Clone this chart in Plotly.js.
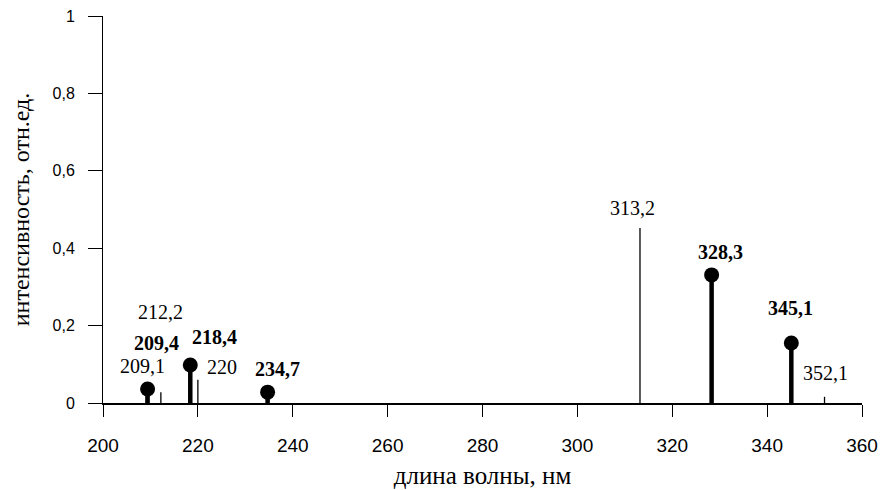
<!DOCTYPE html>
<html>
<head>
<meta charset="utf-8">
<script src="https://cdn.plot.ly/plotly-3.0.1.min.js"></script>
<style>html,body{margin:0;padding:0;background:#fff;}#chart{width:882px;height:490px;}</style>
</head>
<body>
<div id="chart"></div>
<script>
// Strong lines (drawn with markers, bold labels)
var strongWl = [209.4, 218.4, 234.7, 328.3, 345.1];
var strongInt = [0.036, 0.098, 0.028, 0.331, 0.155];
var strongLabels = ["209,4", "218,4", "234,7", "328,3", "345,1"];
// Weak lines (thin stems, plain labels)
var weakWl = [209.1, 212.2, 220, 313.2, 352.1];
var weakInt = [0.03, 0.028, 0.06, 0.452, 0.016];
var weakLabels = ["209,1", "212,2", "220", "313,2", "352,1"];
// label offsets in pixels (layout only)
var strongShift = [[9, 46], [24, 28], [10, 23], [9, 23], [-1, 35]];
var weakShift = [[-4, 25], [0, 80], [24, 13], [-7, 20], [1, 24]];

var xTicks = [200, 220, 240, 260, 280, 300, 320, 340, 360];
var yTicks = [0, 0.2, 0.4, 0.6, 0.8, 1];
var yTickText = ["0", "0,2", "0,4", "0,6", "0,8", "1"];

function stems(xs, ys) {
  var sx = [], sy = [];
  for (var i = 0; i < xs.length; i++) {
    sx.push(xs[i], xs[i], null);
    sy.push(0, ys[i], null);
  }
  return {x: sx, y: sy};
}

var ws = stems(weakWl, weakInt);
var ss = stems(strongWl, strongInt);

var traces = [
  {x: ws.x, y: ws.y, mode: 'lines', line: {color: '#000', width: 1.3}, hoverinfo: 'skip', cliponaxis: false},
  {x: ss.x, y: ss.y, mode: 'lines', line: {color: '#000', width: 4.5}, hoverinfo: 'skip', cliponaxis: false},
  {x: strongWl, y: strongInt, mode: 'markers', marker: {color: '#000', size: 15, symbol: 'circle'}, cliponaxis: false}
];

var labelFont = {family: 'Liberation Serif, serif', size: 20, color: '#000'};
var annotations = [];
for (var i = 0; i < strongWl.length; i++) {
  annotations.push({x: strongWl[i], y: strongInt[i], text: '<b>' + strongLabels[i] + '</b>', showarrow: false,
    xshift: strongShift[i][0], yshift: strongShift[i][1], font: labelFont});
}
for (var j = 0; j < weakWl.length; j++) {
  annotations.push({x: weakWl[j], y: weakInt[j], text: weakLabels[j], showarrow: false,
    xshift: weakShift[j][0], yshift: weakShift[j][1], font: labelFont});
}

var layout = {
  width: 882, height: 490,
  margin: {l: 103, r: 20, t: 16, b: 87},
  paper_bgcolor: '#fff', plot_bgcolor: '#fff',
  showlegend: false,
  separators: ', ',
  xaxis: {
    range: [200, 360], tickmode: 'array', tickvals: xTicks,
    showgrid: false, zeroline: false, showline: true, linecolor: '#000', linewidth: 2,
    ticks: 'outside', ticklen: 12, tickwidth: 1, tickcolor: '#000', ticklabelstandoff: 12,
    tickfont: {family: 'Liberation Sans Narrow, Arial Narrow, sans-serif', size: 19, color: '#000'},
    title: {text: 'длина волны, нм', font: {family: 'Liberation Serif, serif', size: 25, color: '#000'}, standoff: 12}
  },
  yaxis: {
    range: [0, 1], tickmode: 'array', tickvals: yTicks, ticktext: yTickText,
    showgrid: false, zeroline: false, showline: true, linecolor: '#000', linewidth: 1,
    ticks: 'outside', ticklen: 14, tickwidth: 1, tickcolor: '#000', ticklabelstandoff: 10,
    tickfont: {family: 'Liberation Sans Narrow, Arial Narrow, sans-serif', size: 16, color: '#000'},
    title: {text: 'интенсивность, отн.ед.', font: {family: 'Liberation Serif, serif', size: 24, color: '#000'}, standoff: 16}
  },
  annotations: annotations
};

Plotly.newPlot('chart', traces, layout, {displayModeBar: false, staticPlot: true});
</script>
</body>
</html>
